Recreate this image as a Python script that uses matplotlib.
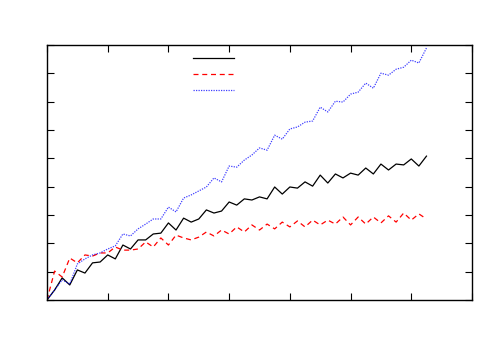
import numpy as np
from matplotlib import pyplot as plt

# sample positions (same for all three curves)
x = np.arange(51) * 0.125

black = [0.00, 0.35, 0.78, 0.53, 1.06, 0.95, 1.31, 1.34, 1.59, 1.45,
         1.94, 1.80, 2.12, 2.12, 2.33, 2.36, 2.72, 2.47, 2.89, 2.75,
         2.86, 3.18, 3.07, 3.14, 3.46, 3.35, 3.57, 3.53, 3.64, 3.57,
         3.99, 3.74, 3.99, 3.95, 4.17, 4.02, 4.41, 4.13, 4.45, 4.31,
         4.48, 4.41, 4.66, 4.45, 4.80, 4.59, 4.80, 4.77, 4.98, 4.73,
         5.08]

red = [0.00, 1.02, 0.81, 1.48, 1.31, 1.59, 1.55, 1.66, 1.66, 1.87,
       1.76, 1.76, 1.80, 2.05, 1.87, 2.19, 1.94, 2.29, 2.19, 2.12,
       2.22, 2.40, 2.26, 2.47, 2.33, 2.58, 2.40, 2.65, 2.47, 2.68,
       2.51, 2.75, 2.58, 2.79, 2.58, 2.82, 2.65, 2.82, 2.68, 2.93,
       2.65, 2.93, 2.68, 2.93, 2.72, 2.97, 2.75, 3.07, 2.82, 3.04,
       2.86]

blue = [0.00, 0.35, 0.71, 0.56, 1.27, 1.45, 1.59, 1.66, 1.80, 1.91,
        2.33, 2.26, 2.51, 2.68, 2.86, 2.86, 3.28, 3.11, 3.60, 3.71,
        3.85, 3.99, 4.31, 4.17, 4.73, 4.69, 4.94, 5.12, 5.37, 5.29,
        5.82, 5.68, 6.04, 6.11, 6.28, 6.32, 6.81, 6.64, 7.02, 6.99,
        7.27, 7.34, 7.66, 7.48, 8.01, 7.94, 8.15, 8.22, 8.47, 8.37,
        8.90]

fig = plt.figure(figsize=(5, 3.5), dpi=100)
ax = fig.add_axes([0.094, 0.143, 0.85, 0.728])

l1, = ax.plot(x, black, c='black', lw=0.9)
l2, = ax.plot(x, red, c='red', lw=0.9, ls=(0, (4, 3)))
l3, = ax.plot(x, blue, c='blue', lw=0.9, ls=(0, (1, 1)), alpha=0.75)

ax.set_xlim(0, 7)
ax.set_ylim(0, 9)
ax.set_xticks(range(8))
ax.set_yticks(range(10))
ax.tick_params(direction='in', length=5, top=True, right=True,
               labelbottom=False, labelleft=False)
for s in ax.spines.values():
    s.set_linewidth(1.0)

ax.legend([l1, l2, l3], [' ', ' ', ' '], loc='center',
          bbox_to_anchor=(0.397, 0.885), frameon=False,
          handlelength=2.9, handletextpad=0.0, labelspacing=0.15,
          fontsize=10)

plt.savefig('out.png')
